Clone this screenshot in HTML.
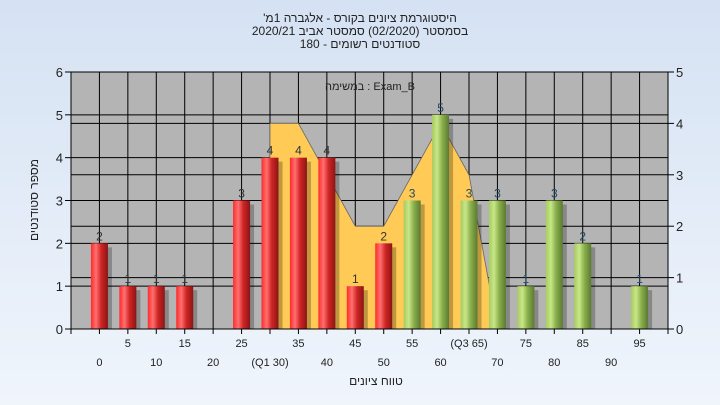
<!DOCTYPE html>
<html><head><meta charset="utf-8">
<style>
html,body{margin:0;padding:0;}
body{width:720px;height:405px;overflow:hidden;background:linear-gradient(#d5e2f3,#f0f5fc);font-family:"Liberation Sans",sans-serif;}
svg{display:block;}
svg text{font-family:"Liberation Sans","Noto Sans CJK SC",sans-serif;}
</style></head>
<body>
<svg id="chart" width="720" height="405">
<defs>
<linearGradient id="red" x1="0" x2="1"><stop offset="0" stop-color="#ff2a2a"/><stop offset="0.3" stop-color="#ff7070"/><stop offset="0.6" stop-color="#d02525"/><stop offset="1" stop-color="#8a1515"/></linearGradient>
<linearGradient id="green" x1="0" x2="1"><stop offset="0" stop-color="#a6cc60"/><stop offset="0.3" stop-color="#c8e688"/><stop offset="0.6" stop-color="#8aaf4c"/><stop offset="1" stop-color="#5a7a30"/></linearGradient>
</defs>
<g font-size="12" text-anchor="middle" fill="#222">
<text x="360" y="22" direction="rtl">היסטוגרמת ציונים בקורס - אלגברה 1מ'</text>
<text x="360" y="35" direction="rtl">בסמסטר (02/2020) סמסטר אביב 2020/21</text>
<text x="360" y="48" direction="rtl">סטודנטים רשומים - 180</text>
</g>
<rect x="71" y="72" width="597" height="257" fill="#b4b4b4"/>
<g id="grid"></g>
<g id="area"></g>
<g id="bars"></g>
<g id="axes"></g>
<text x="370" y="90" font-size="11" text-anchor="middle" fill="#222">במשימה : Exam_B</text>
<text x="376" y="385" font-size="12" text-anchor="middle" fill="#222">טווח ציונים</text>
<text transform="translate(38,200) rotate(-90)" font-size="12" text-anchor="middle" fill="#222">מספר סטודנטים</text>
</svg>
<script>
const categories=["0","5","10","15","20","25","(Q1 30)","35","40","45","50","55","60","(Q3 65)","70","75","80","85","90","95"];
const counts=[2,1,1,1,0,3,4,4,4,1,2,3,5,3,3,1,3,2,0,1];
const areaIdx=[6,7,8,9,10,11,12,13,14];
const areaVals=[4,4,3,2,2,3,4,3,0];
const leftTicks=[0,1,2,3,4,5,6];
const rightTicks=[0,1,2,3,4,5];
const NS="http://www.w3.org/2000/svg";
const L=71,R=668,T=72,B=329,step=(R-L)/21;
const xs=i=>L+step*(i+1);
const yL=v=>B-v*(B-T)/6;
const yR=v=>B-v*(B-T)/5;
function mk(tag,attrs,parent){const e=document.createElementNS(NS,tag);for(const k in attrs)e.setAttribute(k,attrs[k]);parent.appendChild(e);return e;}
const grid=document.getElementById('grid'),area=document.getElementById('area'),bars=document.getElementById('bars'),axes=document.getElementById('axes');
categories.forEach((c,i)=>{const l=mk('line',{x1:xs(i),x2:xs(i),y1:T,y2:B,stroke:'#000','stroke-width':1},grid);

});
leftTicks.forEach(v=>{const l=mk('line',{x1:L,x2:R,y1:yL(v),y2:yL(v),stroke:'#000','stroke-width':1},grid);


const t=mk('text',{x:L-8,y:yL(v)+5,'font-size':13,'text-anchor':'end',fill:'#222'},axes);t.textContent=v;


mk('line',{x1:L-6,x2:L,y1:yL(v),y2:yL(v),stroke:'#000'},axes);});
rightTicks.forEach(v=>{const l=mk('line',{x1:L,x2:R,y1:yR(v),y2:yR(v),stroke:'#000','stroke-width':1},grid);


const t=mk('text',{x:R+8,y:yR(v)+5,'font-size':13,fill:'#222'},axes);t.textContent=v;


mk('line',{x1:R,x2:R+6,y1:yR(v),y2:yR(v),stroke:'#000'},axes);});
let pts=[xs(areaIdx[0])+','+B];
areaIdx.forEach((k,j)=>pts.push(xs(k)+','+yR(areaVals[j])));
pts.push(xs(areaIdx[areaIdx.length-1])+','+B);
const poly=mk('polygon',{points:pts.join(' '),fill:'#ffca55',stroke:'#666','stroke-width':0.8},area);


counts.forEach((v,i)=>{if(v<=0)return;const x=xs(i),w=17,y=yL(v);
mk('rect',{x:x-w/2+4,y:y+4,width:w,height:B-y-4,fill:'rgba(0,0,0,0.25)'},bars);
const r=mk('rect',{x:x-w/2,y:y,width:w,height:B-y,fill:i<11?'url(#red)':'url(#green)'},bars);


const t=mk('text',{x:x,y:y-3,'font-size':12,'text-anchor':'middle',fill:i<11?'#333':'#1e4a66'},bars);t.textContent=v;

});
mk('line',{x1:L,x2:R,y1:B,y2:B,stroke:'#000'},axes);
mk('line',{x1:L,x2:L,y1:T,y2:B,stroke:'#000'},axes);
mk('line',{x1:R,x2:R,y1:T,y2:B,stroke:'#000'},axes);
mk('line',{x1:L,x2:R,y1:T,y2:T,stroke:'#000'},axes);
for(let i=0;i<=21;i++){mk('line',{x1:L+step*i,x2:L+step*i,y1:B,y2:B+5,stroke:'#000'},axes);}
categories.forEach((c,i)=>{const t=mk('text',{x:xs(i),y:i%2?347:366,'font-size':11,'text-anchor':'middle',fill:'#222'},axes);t.textContent=c;

});
</script>
</body></html>
